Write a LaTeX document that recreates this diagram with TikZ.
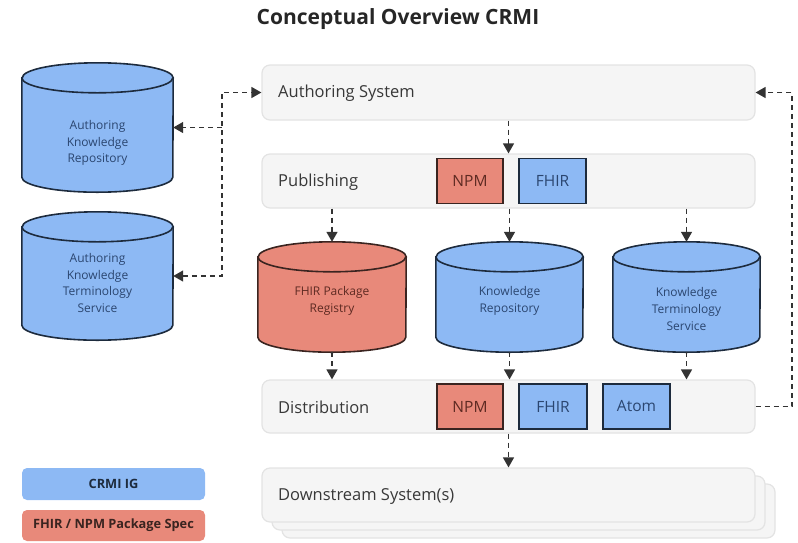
\documentclass[tikz,border=0pt]{standalone}
\usepackage{fontspec}
\setmainfont{Open Sans}
\usetikzlibrary{arrows.meta}

\definecolor{boxfill}{HTML}{F5F5F5}
\definecolor{boxline}{HTML}{E3E3E3}
\definecolor{bluefill}{HTML}{8DB9F4}
\definecolor{blueline}{HTML}{1D2B3D}
\definecolor{bluetext}{HTML}{2B4670}
\definecolor{redfill}{HTML}{E8897A}
\definecolor{redline}{HTML}{3A2420}
\definecolor{redtext}{HTML}{5E2A22}
\definecolor{labeltext}{HTML}{383838}
\definecolor{arrowcol}{HTML}{333333}

% database cylinder drawn inside the bounding box of a named node
% #1 node name, #2 half width, #3 fill colour, #4 line colour
\newcommand\dbshape[4]{%
  \draw[fill=#3, draw=#4, line width=1.6pt]
    ([yshift=-15pt]#1.north west) -- ([yshift=15pt]#1.south west)
    arc[start angle=180, end angle=360, x radius=#2pt, y radius=15pt]
    -- ([yshift=-15pt]#1.north east)
    arc[start angle=0, end angle=180, x radius=#2pt, y radius=15pt] -- cycle;
  \draw[draw=#4, line width=1.6pt]
    ([yshift=-15pt]#1.north west)
    arc[start angle=180, end angle=360, x radius=#2pt, y radius=15pt];
}

\tikzset{
  stage/.style={draw=boxline, fill=boxfill, line width=1.2pt, rounded corners=8pt,
    minimum width=493pt, minimum height=54pt, inner sep=0pt},
  stagelabel/.style={anchor=west, text=labeltext, inner sep=0pt,
    font=\fontsize{16.5}{19}\selectfont},
  tag/.style={line width=1.6pt, minimum height=45pt, inner sep=0pt,
    font=\fontsize{15.5}{18}\selectfont},
  npmtag/.style={tag, fill=redfill, draw=redline, text=redtext, minimum width=66pt},
  fhirtag/.style={tag, fill=bluefill, draw=blueline, text=bluetext, minimum width=67pt},
  dbbox/.style={inner sep=0pt, minimum width=#1pt},
  dbtext/.style={align=center, inner sep=0pt, font=\fontsize{12}{16.8}\selectfont},
  legend/.style={rounded corners=5pt, minimum width=183pt, inner sep=0pt,
    font=\bfseries\fontsize{12.8}{15}\selectfont},
  conn/.style={draw=arrowcol, line width=1.4pt, dash pattern=on 5pt off 4pt},
  tip/.style={-{Triangle[length=10pt,width=11pt]}},
}

\begin{document}
\begin{tikzpicture}[x=1pt, y=-1pt]
\useasboundingbox (0,0) rectangle (798,542);

% title
\node[font=\bfseries\fontsize{21}{24}\selectfont, text=black!85] (title) at (398,19)
  {Conceptual Overview CRMI};

% process stages
\node[stage, minimum height=55pt] (as) at (508.5,92.5) {};
\node[stagelabel] (aslbl) at (278,93) {Authoring System};

\node[stage] (pub) at (508.5,181) {};
\node[stagelabel] (publbl) at (278,182) {Publishing};
\node[npmtag] (pubnpm) at (470,181) {NPM};
\node[fhirtag] (pubfhir) at (552.5,181) {FHIR};

\node[stage, minimum height=53pt] (dist) at (508.5,406.5) {};
\node[stagelabel] (distlbl) at (278,407.5) {Distribution};
\node[npmtag] (distnpm) at (470,406.5) {NPM};
\node[fhirtag, minimum width=68pt] (distfhir) at (553,406.5) {FHIR};
\node[fhirtag] (distatom) at (636.5,406.5) {Atom};

% downstream systems, stacked
\node[stage] (down3) at (528.5,511) {};
\node[stage] (down2) at (518.5,503) {};
\node[stage] (down) at (508.5,495) {};
\node[stagelabel] (downlbl) at (278,496) {Downstream System(s)};

% repositories
\node[dbbox=151, minimum height=129pt] (cyla) at (97.5,127.5) {};
\dbshape{cyla}{75.5}{bluefill}{blueline}
\node[dbtext, text=bluetext] (cylatxt) at (97.5,143) {Authoring\\Knowledge\\Repository};

\node[dbbox=151, minimum height=128pt] (cylb) at (97.5,276) {};
\dbshape{cylb}{75.5}{bluefill}{blueline}
\node[dbtext, text=bluetext] (cylbtxt) at (97.5,283) {Authoring\\Knowledge\\Terminology\\Service};

\node[dbbox=148, minimum height=110pt] (fpr) at (332,297) {};
\dbshape{fpr}{74}{redfill}{redline}
\node[dbtext, text=redtext] (fprtxt) at (332,300.5) {FHIR Package\\Registry};

\node[dbbox=147, minimum height=110pt] (kr) at (509.5,297) {};
\dbshape{kr}{73.5}{bluefill}{blueline}
\node[dbtext, text=bluetext] (krtxt) at (509.5,300.5) {Knowledge\\Repository};

\node[dbbox=147, minimum height=110pt] (kts) at (686.5,297) {};
\dbshape{kts}{73.5}{bluefill}{blueline}
\node[dbtext, text=bluetext] (ktstxt) at (686.5,309) {Knowledge\\Terminology\\Service};

% legend
\node[legend, fill=bluefill, text=blueline, minimum height=32pt] (lgblue) at (113.5,484) {CRMI IG};
\node[legend, fill=redfill, text=redline, minimum height=31pt] (lgred) at (113.5,525.5) {FHIR / NPM Package Spec};

% connectors
\coordinate (lbus) at (222,92.5);
\coordinate (rbus) at (792,92.5);

\draw[conn, {Triangle[length=10pt,width=11pt]}-{Triangle[length=10pt,width=11pt]}]
  (cylb.east) -| (lbus) -- (as.west);
\draw[conn, tip] (lbus |- cyla.east) -- (cyla.east);
\draw[conn, tip] (dist.east) -| (rbus) -- (as.east);

\draw[conn, tip] (as.south) -- (pub.north);
\draw[conn, tip] (fpr.north |- pub.south) -- (fpr.north);
\draw[conn, tip] (kr.north |- pub.south) -- (kr.north);
\draw[conn, tip] (kts.north |- pub.south) -- (kts.north);
\draw[conn, tip] (fpr.south) -- (fpr.south |- dist.north);
\draw[conn, tip] (kr.south) -- (kr.south |- dist.north);
\draw[conn, tip] (kts.south) -- (kts.south |- dist.north);
\draw[conn, tip] (dist.south) -- (down.north);
\end{tikzpicture}
\end{document}
